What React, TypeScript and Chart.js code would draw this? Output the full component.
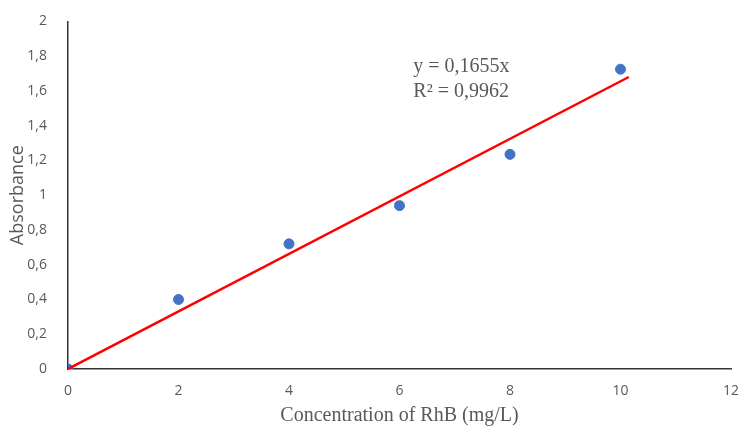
import React, { useEffect, useRef } from "react";
import { Chart, registerables } from "chart.js";

Chart.register(...registerables);

const concentrations = [0, 2, 4, 6, 8, 10];
const absorbances = [0, 0.4, 0.72, 0.94, 1.235, 1.725];
const trendX = [0, 10.15];
const trendY = [0, 1.68];
const equationLines = ["y = 0,1655x", "R\u00b2 = 0,9962"];
const xTitle = "Concentration of RhB (mg/L)";
const yTitle = "Absorbance";

const fmt = (v: number) => String(Math.round(v * 10) / 10).replace(".", ",");

export default function App() {
  const ref = useRef<HTMLCanvasElement | null>(null);
  useEffect(() => {
    if (!ref.current) return;
    const eqPlugin = {
      id: "eq",
      afterDraw(chart: any) {
        const { ctx, scales } = chart;
        const x = scales.x.getPixelForValue(6.25);
        const y0 = scales.y.getPixelForValue(1.74);
        ctx.save();
        ctx.font = '20px "Liberation Serif"';
        ctx.fillStyle = "#595959";
        ctx.textBaseline = "middle";
        ctx.textAlign = "left";
        equationLines.forEach((t, i) => ctx.fillText(t, x, y0 + i * 25));
        ctx.restore();
      },
    };
    const chart = new Chart(ref.current, {
      type: "scatter",
      data: {
        datasets: [
          {
            type: "line",
            data: trendX.map((x, i) => ({ x, y: trendY[i] })),
            borderColor: "#FF0000",
            borderWidth: 2.5,
            pointRadius: 0,
            fill: false,
          } as any,
          {
            data: concentrations.map((x, i) => ({ x, y: absorbances[i] })),
            backgroundColor: "#4472C4",
            borderColor: "#4472C4",
            pointRadius: 5,
          },
        ],
      },
      options: {
        animation: false,
        responsive: false,
        maintainAspectRatio: false,
        plugins: { legend: { display: false }, tooltip: { enabled: false } },
        layout: { padding: { top: 20, right: 10, left: 0, bottom: 0 } },
        scales: {
          x: {
            type: "linear",
            min: 0,
            max: 12,
            ticks: {
              stepSize: 2,
              color: "#595959",
              font: { family: "Open Sans", size: 14 },
              padding: 6,
            },
            grid: { display: false },
            border: { display: true, color: "#333333", width: 1.5 },
            title: {
              display: true,
              text: xTitle,
              color: "#595959",
              font: { family: "Liberation Serif", size: 20 },
              padding: { top: 0, bottom: 0 },
            },
            afterFit: (s: any) => {
              s.height = 59;
              s.paddingRight = 0;
            },
          },
          y: {
            type: "linear",
            min: 0,
            max: 2,
            ticks: {
              stepSize: 0.2,
              color: "#595959",
              font: { family: "Open Sans", size: 14 },
              padding: 13,
              callback: (v: any) => fmt(Number(v)),
            },
            grid: { display: false },
            border: { display: true, color: "#333333", width: 1.5 },
            title: {
              display: true,
              text: yTitle,
              color: "#595959",
              font: { family: "Open Sans", size: 18 },
              padding: { top: 7, bottom: 0 },
            },
            afterFit: (s: any) => {
              s.width = 68;
            },
          },
        },
      },
      plugins: [eqPlugin],
    });
    return () => chart.destroy();
  }, []);
  return (
    <div style={{ position: "absolute", left: 0, top: 0, width: 741, height: 428, background: "#fff" }}>
      <canvas ref={ref} width={741} height={428} style={{ width: 741, height: 428 }} />
    </div>
  );
}
